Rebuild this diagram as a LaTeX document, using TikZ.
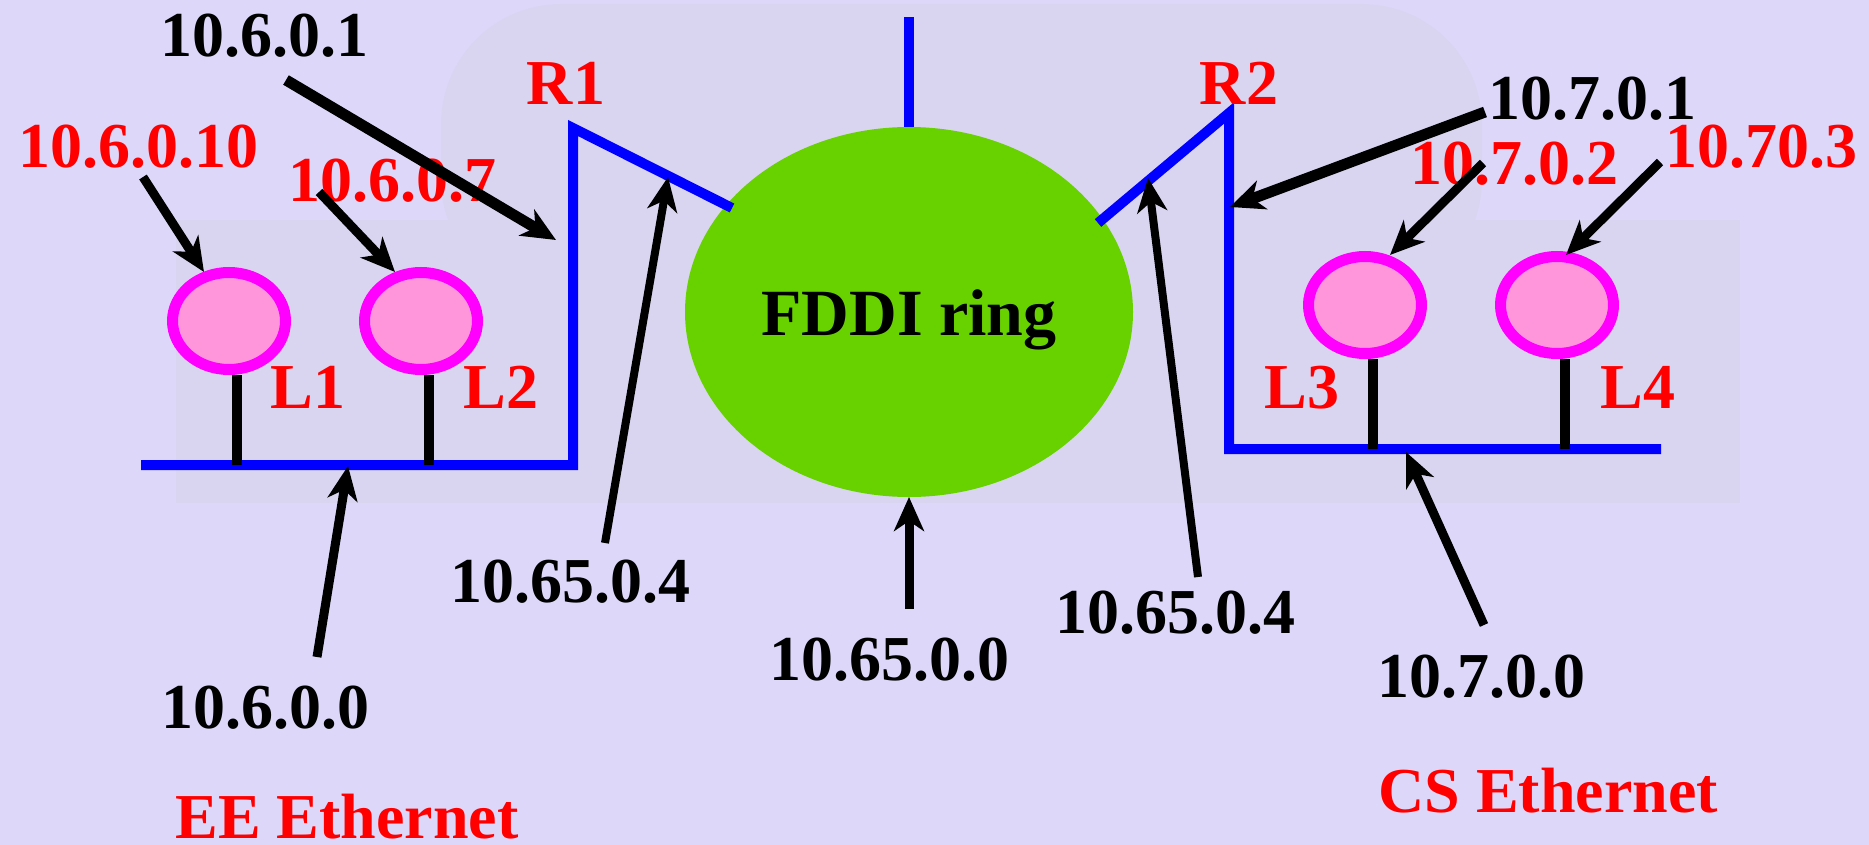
\documentclass[tikz,border=0pt]{standalone}
\usepackage{fontspec}
\setmainfont{Liberation Serif}
\usetikzlibrary{arrows.meta,shapes.geometric}
\definecolor{bgc}{RGB}{221,216,250}
\definecolor{photoc}{RGB}{217,213,241}
\definecolor{ringgreen}{RGB}{104,210,0}
\definecolor{hostpink}{RGB}{255,150,220}
\definecolor{hostrim}{RGB}{255,0,255}
\definecolor{labred}{RGB}{255,0,0}
\definecolor{netblue}{RGB}{0,0,255}
\begin{document}
\begin{tikzpicture}[x=1pt,y=-1pt,
  lbl/.style={font=\fontsize{64pt}{70pt}\selectfont\bfseries, inner sep=0pt, anchor=base},
  addr/.style={lbl, text=black},
  redlbl/.style={lbl, text=labred},
  wire/.style={draw=netblue, line width=10pt, line join=miter},
  stem/.style={draw=black, line width=10pt},
  host/.style={shape=ellipse, draw=hostrim, fill=hostpink, line width=11pt,
     minimum width=113pt, minimum height=97pt, inner sep=0pt},
  ring/.style={shape=ellipse, fill=ringgreen, draw=none,
     minimum width=448pt, minimum height=370pt, inner sep=0pt, outer sep=0pt},
  arr/.style={draw=black, line width=9pt, -{Stealth[length=34pt,width=30pt,inset=10pt]}},
  thickarr/.style={arr, line width=11pt},
  thinarr/.style={arr, line width=8pt}
]
% background
\path[fill=bgc] (0,0) rectangle (1869,845);
\useasboundingbox (0,0) rectangle (1869,845);
\path[fill=photoc, rounded corners=120pt] (441,4) rectangle (1482,300);
\path[fill=photoc] (176,220) rectangle (1740,503);

% FDDI ring
\node[ring] (fddi) at (909,312) {};
\node[lbl, font=\fontsize{66pt}{72pt}\selectfont\bfseries] (ringtxt) at (909,335) {FDDI ring};
\coordinate (fddiup) at (909,17);
\draw[wire] (fddi.north) -- (fddiup);

% hosts
\node[host] (L1e) at (229,321) {};
\node[host] (L2e) at (421,321) {};
\node[host] (L3e) at (1365,305) {};
\node[host] (L4e) at (1557,305) {};

% EE ethernet bus and router R1
\coordinate (eeW) at (141,465);
\coordinate (r1low) at (573,465);
\coordinate (r1top) at (573,128);
\coordinate (r1end) at (732,208);
\draw[wire] (eeW) -- (r1low) -- (r1top) -- (r1end);

% CS ethernet bus and router R2
\coordinate (r2end) at (1098,223);
\coordinate (r2top) at (1229,113);
\coordinate (r2low) at (1229,449);
\coordinate (csE) at (1661,449);
\draw[wire] (r2end) -- (r2top) -- (r2low) -- (csE);

% stems
\coordinate (s1) at (237,465);
\coordinate (s2) at (429,465);
\coordinate (s3) at (1373,449);
\coordinate (s4) at (1565,449);
\draw[stem] (L1e.south -| s1) -- (s1);
\draw[stem] (L2e.south -| s2) -- (s2);
\draw[stem] (L3e.south -| s3) -- (s3);
\draw[stem] (L4e.south -| s4) -- (s4);

% labels
\node[redlbl] (R1) at (566,105) {R1};
\node[redlbl] (R2) at (1239,105) {R2};
\node[redlbl] (L1) at (308,408) {L1};
\node[redlbl] (L2) at (501,408) {L2};
\node[redlbl] (L3) at (1302,408) {L3};
\node[redlbl] (L4) at (1638,408) {L4};
\node[addr] (t6001) at (264,57) {10.6.0.1};
\node[redlbl] (t60010) at (139,168) {10.6.0.10};
\node[redlbl] (t6007) at (392,202) {10.6.0.7};
\node[addr] (t7001) at (1592,120) {10.7.0.1};
\node[redlbl] (t7002) at (1514,185) {10.7.0.2};
\node[redlbl] (t7003) at (1761,168) {10.70.3};
\node[addr] (t65004a) at (570,602) {10.65.0.4};
\node[addr] (t65000) at (889,680) {10.65.0.0};
\node[addr] (t65004b) at (1175,633) {10.65.0.4};
\node[addr] (t6000) at (265,728) {10.6.0.0};
\node[addr] (t7000) at (1481,697) {10.7.0.0};
\node[redlbl] (eeeth) at (347,838) {EE Ethernet};
\node[redlbl] (cseth) at (1548,812) {CS Ethernet};

% arrow ends
\coordinate (a1s) at (286,80);   \coordinate (a1e) at (556,240);
\coordinate (a2s) at (143,177);  \coordinate (a2e) at (204,272);
\coordinate (a3s) at (319,192);  \coordinate (a3e) at (395,272);
\coordinate (a4s) at (605,543);  \coordinate (a4e) at (668,177);
\coordinate (a5s) at (909,609);
\coordinate (a6s) at (317,657);  \coordinate (a6e) at (348,466);
\coordinate (a7s) at (1198,577); \coordinate (a7e) at (1148,178);
\coordinate (a8s) at (1485,112); \coordinate (a8e) at (1230,207);
\coordinate (a9s) at (1483,163); \coordinate (a9e) at (1390,255);
\coordinate (a10s) at (1660,162); \coordinate (a10e) at (1566,255);
\coordinate (a11s) at (1484,625); \coordinate (a11e) at (1406,452);

\draw[thickarr] (a1s) -- (a1e);
\draw[arr] (a2s) -- (a2e);
\draw[arr] (a3s) -- (a3e);
\draw[thinarr] (a4s) -- (a4e);
\draw[arr] (a5s) -- (fddi.south);
\draw[arr] (a6s) -- (a6e);
\draw[thinarr] (a7s) -- (a7e);
\draw[thickarr] (a8s) -- (a8e);
\draw[arr] (a9s) -- (a9e);
\draw[arr] (a10s) -- (a10e);
\draw[arr] (a11s) -- (a11e);
\end{tikzpicture}
\end{document}
